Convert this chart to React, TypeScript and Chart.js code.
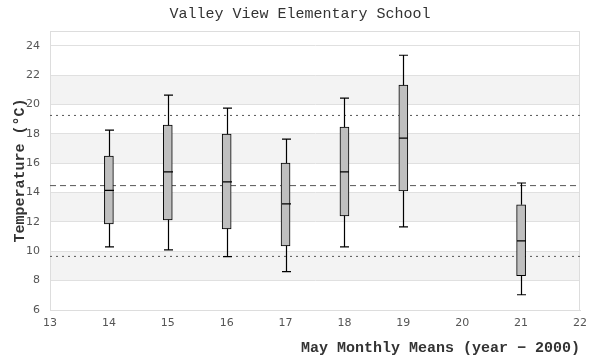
import React, { useEffect, useRef } from "react";
import { Chart, registerables } from "chart.js";

Chart.register(...registerables);

// ---- data ----
const YEARS = [14, 15, 16, 17, 18, 19, 21];
const WHISKER_LOW = [10.3, 10.1, 9.63, 8.61, 10.3, 11.66, 7.04];
const Q1 = [11.87, 12.14, 11.53, 10.37, 12.41, 14.11, 8.33];
const MEDIAN = [14.15, 15.4, 14.72, 13.23, 15.4, 17.71, 10.71];
const Q3 = [16.49, 18.59, 17.98, 16.01, 18.46, 21.31, 13.16];
const WHISKER_HIGH = [18.25, 20.63, 19.75, 17.64, 20.43, 23.35, 14.65];

const MEAN_LINE = 14.47;
const UPPER_LINE = 19.25;
const LOWER_LINE = 9.65;

const X_MIN = 13;
const X_MAX = 22;
const Y_MIN = 6;
const Y_MAX = 25;
const Y_TICKS = [6, 8, 10, 12, 14, 16, 18, 20, 22, 24];
const BANDS: [number, number][] = [
  [8, 10],
  [12, 14],
  [16, 18],
  [20, 22],
];

const TITLE = "Valley View Elementary School";
const X_TITLE = "May Monthly Means (year \u2212 2000)";
const Y_TITLE = "Temperature (\u00B0C)";

const MONO = "'Liberation Mono', 'Courier New', monospace";
const SANS = "'DejaVu Sans', sans-serif";

const boxPlugin = {
  id: "boxExtras",
  beforeDraw(chart: any) {
    const { ctx, chartArea: a, scales } = chart;
    const y = scales.y;
    ctx.save();
    ctx.fillStyle = "#f3f3f3";
    BANDS.forEach(([lo, hi]) => {
      const top = y.getPixelForValue(hi);
      const bot = y.getPixelForValue(lo);
      ctx.fillRect(a.left, top, a.right - a.left, bot - top);
    });
    ctx.restore();
  },
  beforeDatasetsDraw(chart: any) {
    const { ctx, chartArea: a } = chart;
    ctx.save();
    ctx.strokeStyle = "#dddddd";
    ctx.lineWidth = 1;
    ctx.strokeRect(a.left + 0.5, a.top + 0.5, a.right - a.left - 1, a.bottom - a.top);
    ctx.restore();
  },
  afterDatasetsDraw(chart: any) {
    const { ctx, scales } = chart;
    const y = scales.y;
    const meta = chart.getDatasetMeta(3);
    ctx.save();
    ctx.strokeStyle = "#000000";
    ctx.lineWidth = 1.2;
    meta.data.forEach((bar: any, i: number) => {
      const cx = Math.round(bar.x) + 0.5;
      const hw = bar.width / 2;
      const yLow = y.getPixelForValue(WHISKER_LOW[i]);
      const yQ1 = y.getPixelForValue(Q1[i]);
      const yMed = y.getPixelForValue(MEDIAN[i]);
      const yQ3 = y.getPixelForValue(Q3[i]);
      const yHigh = y.getPixelForValue(WHISKER_HIGH[i]);
      ctx.beginPath();
      ctx.moveTo(cx, yQ3);
      ctx.lineTo(cx, yHigh);
      ctx.moveTo(cx - hw, yHigh);
      ctx.lineTo(cx + hw, yHigh);
      ctx.moveTo(cx, yQ1);
      ctx.lineTo(cx, yLow);
      ctx.moveTo(cx - hw, yLow);
      ctx.lineTo(cx + hw, yLow);
      ctx.moveTo(cx - hw, yMed);
      ctx.lineTo(cx + hw, yMed);
      ctx.stroke();
    });
    ctx.restore();
  },
};

function refLine(value: number, dash: number[]) {
  return {
    type: "line" as const,
    data: [
      { x: X_MIN, y: value },
      { x: X_MAX, y: value },
    ],
    borderColor: "#555555",
    borderWidth: 1,
    borderDash: dash,
    pointRadius: 0,
    fill: false,
    order: 2,
  };
}

export default function App() {
  const ref = useRef<HTMLCanvasElement>(null);

  useEffect(() => {
    document.body.style.margin = "0";
    const canvas = ref.current;
    if (!canvas) return;
    const chart = new Chart(canvas, {
      type: "bar",
      data: {
        datasets: [
          refLine(UPPER_LINE, [2, 4]),
          refLine(MEAN_LINE, [6, 4]),
          refLine(LOWER_LINE, [2, 4]),
          {
            type: "bar",
            data: YEARS.map((yr, i) => ({ x: yr, y: [Q1[i], Q3[i]] })),
            backgroundColor: "#bfbfbf",
            borderColor: "#000000",
            borderWidth: 1,
            borderSkipped: false,
            barThickness: 9,
            order: 1,
          } as any,
        ],
      },
      options: {
        responsive: false,
        animation: false,
        layout: { padding: { left: 20, right: 20, top: 0, bottom: 0 } },
        plugins: {
          legend: { display: false },
          tooltip: { enabled: false },
          title: {
            display: true,
            text: TITLE,
            color: "#333333",
            font: { family: MONO, size: 15, weight: "normal" },
            padding: { top: 5, bottom: 8 },
          },
        },
        scales: {
          x: {
            type: "linear",
            min: X_MIN,
            max: X_MAX,
            offset: false,
            ticks: {
              stepSize: 1,
              color: "#555555",
              font: { family: SANS, size: 11 },
              padding: 7,
              maxRotation: 0,
            },
            grid: { display: false, drawTicks: false },
            border: { display: true, color: "#dddddd" },
            title: {
              display: true,
              text: X_TITLE,
              align: "end",
              color: "#333333",
              font: { family: MONO, size: 15, weight: "bold" },
              padding: { top: 0, bottom: 3 },
            },
            afterFit(scale: any) {
              scale.height = 50;
            },
          },
          y: {
            type: "linear",
            min: Y_MIN,
            max: Y_MAX,
            afterBuildTicks(scale: any) {
              scale.ticks = Y_TICKS.map((v) => ({ value: v }));
            },
            ticks: {
              color: "#555555",
              font: { family: SANS, size: 11 },
              padding: 10,
            },
            grid: { color: "#e0e0e0", drawTicks: false },
            border: { display: true, color: "#dddddd" },
            title: {
              display: true,
              text: Y_TITLE,
              color: "#333333",
              font: { family: MONO, size: 15, weight: "bold" },
              padding: { top: -9, bottom: 0 },
            },
            afterFit(scale: any) {
              scale.width = 30;
            },
          },
        },
      } as any,
      plugins: [boxPlugin],
    });
    return () => chart.destroy();
  }, []);

  return (
    <div style={{ width: 600, height: 360 }}>
      <canvas ref={ref} width={600} height={360} style={{ display: "block" }} />
    </div>
  );
}
